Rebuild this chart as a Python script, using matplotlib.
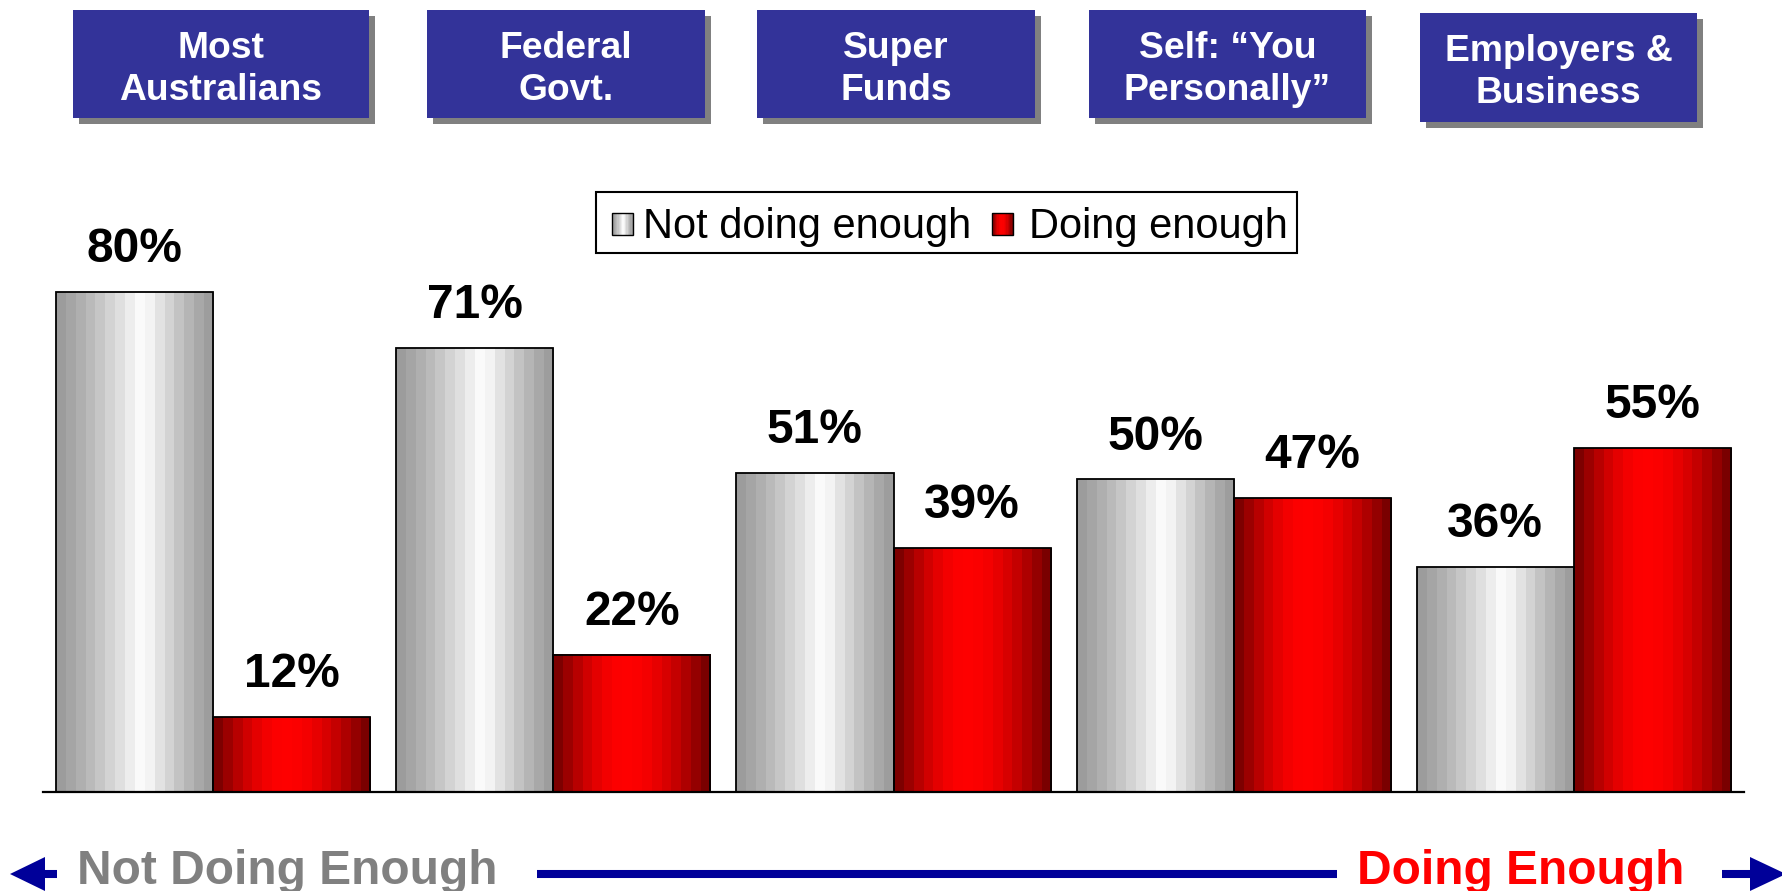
import numpy as np
import matplotlib
matplotlib.use("Agg")
import matplotlib.pyplot as plt
from matplotlib.patches import Rectangle, Polygon

plt.rcParams["font.family"] = ["Liberation Sans", "DejaVu Sans"]

# ─── data ────────────────────────────────────────────────────────────────────
groups = ["Most\nAustralians", "Federal\nGovt.", "Super\nFunds",
          "Self: \u201cYou\nPersonally\u201d", "Employers &\nBusiness"]
not_enough = [80, 71, 51, 50, 36]
doing_enough = [12, 22, 39, 47, 55]
series_names = ["Not doing enough", "Doing enough"]

W, H = 1782, 891
BLUE_BOX = "#333399"
ARROW = "#000099"


def grey_grad(n=16, peak=0.55):
    t = (np.arange(n) + 0.5) / n
    d = np.where(t < peak, (peak - t) / peak, (t - peak) / (1 - peak))
    v = 0.6 + 0.4 * (1 - d) ** 1.2
    return np.stack([v, v, v], axis=-1)[None, :, :]


def red_grad(n=16, peak=0.46):
    t = (np.arange(n) + 0.5) / n
    d = np.where(t < peak, (peak - t) / peak, (t - peak) / (1 - peak))
    r = 0.43 + 0.57 * np.cos(d * np.pi / 2)
    z = np.zeros_like(r)
    return np.stack([r, z, z], axis=-1)[None, :, :]


fig = plt.figure(figsize=(W / 100, H / 100), dpi=100)
ax = fig.add_axes([43 / W, (H - 792) / H, 1701 / W, 625 / H])

x = np.arange(len(groups))
bw = 0.462
grads = [grey_grad(), red_grad()]
for k, vals in enumerate([not_enough, doing_enough]):
    xs = x - bw / 2 + k * bw
    bars = ax.bar(xs, vals, bw, facecolor="none", edgecolor="black", lw=1.3, zorder=3)
    for b, v in zip(bars, vals):
        x0 = b.get_x()
        ax.imshow(grads[k], extent=(x0, x0 + bw, 0, v), aspect="auto",
                  interpolation="nearest", zorder=2)
        ax.annotate(f"{v}%", (x0 + bw / 2, v), xytext=(0, 21.5), textcoords="offset points",
                    ha="center", va="baseline", fontsize=34.5, fontweight="bold")

ax.set_xlim(-0.5, len(groups) - 0.5)
ax.set_ylim(0, 100)
for s in ["top", "left", "right"]:
    ax.spines[s].set_visible(False)
ax.spines["bottom"].set_linewidth(1.6)
ax.set_xticks([]); ax.set_yticks([])
ax.patch.set_alpha(0)

# ─── overlay in pixel coords: header boxes, legend, bottom arrow ─────────────
ov = fig.add_axes([0, 0, 1, 1])
ov.set_xlim(0, W); ov.set_ylim(H, 0)
ov.axis("off"); ov.patch.set_alpha(0)

boxes = [(73, 10, 369, 118), (427, 10, 705, 118), (757, 10, 1035, 118),
         (1089, 10, 1366, 118), (1420, 13, 1697, 122)]
for (l, t, r, b), name in zip(boxes, groups):
    ov.add_patch(Rectangle((l + 6, t + 6), r - l, b - t, facecolor="#808080", lw=0))
    ov.add_patch(Rectangle((l, t), r - l, b - t, facecolor=BLUE_BOX, lw=0))
    ov.text((l + r) / 2, t + 90, name, color="white", fontsize=26.8, fontweight="bold",
            ha="center", va="baseline", ma="center", linespacing=1.27)

# legend
ov.add_patch(Rectangle((596, 192), 701, 61, facecolor="white", edgecolor="black", lw=1.5))
for gx, tx, g, name in [(612, 643, grads[0], series_names[0]),
                        (992, 1029, grads[1], series_names[1])]:
    ov.imshow(g, extent=(gx, gx + 21, 235, 213), aspect="auto", interpolation="nearest", zorder=3)
    ov.add_patch(Rectangle((gx, 213), 21, 22, facecolor="none", edgecolor="black", lw=1, zorder=4))
    ov.text(tx, 238, name, fontsize=30, ha="left", va="baseline")

# bottom arrow
ov.plot([537, 1337], [874, 874], color=ARROW, lw=5.8, solid_capstyle="butt")
ov.plot([44, 57], [874, 874], color=ARROW, lw=5.8, solid_capstyle="butt")
ov.plot([1722, 1751], [874, 874], color=ARROW, lw=5.8, solid_capstyle="butt")
ov.add_patch(Polygon([(10, 874), (45, 857), (45, 891)], closed=True, facecolor=ARROW, lw=0))
ov.add_patch(Polygon([(1786, 874), (1750, 857), (1750, 891)], closed=True, facecolor=ARROW, lw=0))
ov.text(77, 884, "Not Doing Enough", color="#808080", fontsize=34.5, fontweight="bold",
        ha="left", va="baseline")
ov.text(1357, 884, "Doing Enough", color="#FF0000", fontsize=34.5, fontweight="bold",
        ha="left", va="baseline")
ov.set_xlim(0, W); ov.set_ylim(H, 0)

fig.savefig("out.png", dpi=100)
